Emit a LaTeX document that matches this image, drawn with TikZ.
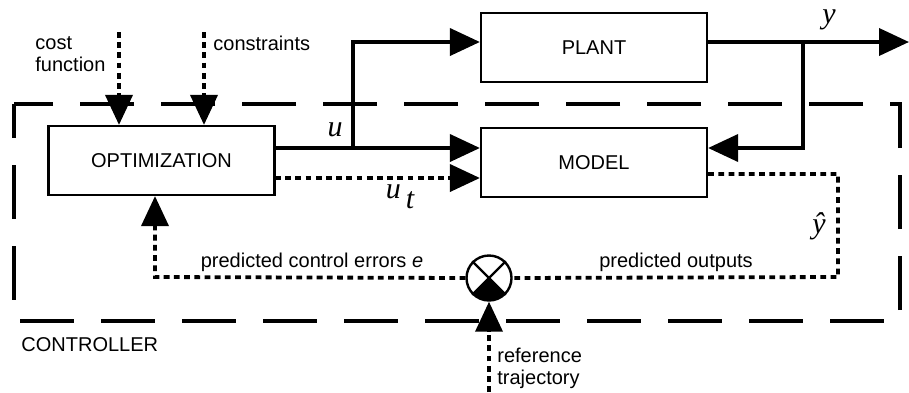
\documentclass[tikz,border=0pt]{standalone}
\usepackage{fontspec}
\setmainfont{Liberation Sans}
\newfontfamily\serfont{Liberation Serif}
\usepackage{tikz}
\usetikzlibrary{arrows.meta, positioning}

\begin{document}
\begin{tikzpicture}[x=0.5pt, y=-0.5pt,
                block/.style={
                  draw, line width=1.1pt, minimum width=113pt, minimum height=34.5pt,
                  font=\fontsize{10}{11}\selectfont, inner sep=0pt
                },
                sigPlain/.style={line width=1.9pt},
                sig/.style={sigPlain, -{Triangle[length=15pt,width=13.5pt]}},
                sigDot/.style={line width=1.9pt, dash pattern=on 2.9pt off 2.2pt},
                sigDotArr/.style={sigDot, -{Triangle[length=15pt,width=13.5pt]}},
                ctrlBox/.style={line width=1.7pt, dash pattern=on 27pt off 13.5pt, dash phase=10pt},
                txt/.style={font=\fontsize{10}{11}\selectfont, inner sep=0pt, align=left},
                lab/.style={font=\serfont\itshape\fontsize{15}{15}\selectfont, inner sep=0pt},
              ]
  \useasboundingbox (0,0) rectangle (909,392);

  % controller frame
  \draw [ctrlBox] (14,104) rectangle (900,321);
  \node [txt, anchor=west] (ctrl) at (21,345) {CONTROLLER};

  % blocks
  \node [block] (opt) at (161.5,160.5) {OPTIMIZATION};
  \node [block] (plant) at (594,47.5) {PLANT};
  \node [block] (model) at (594,162.5) {MODEL};
  \node [draw, circle, line width=1.2pt, minimum size=22.5pt, inner sep=0pt] (sum) at (489,278) {};

  % comparator
  \begin{scope}
    \clip (sum.center) -- ++(-30,30) -- ++(60,0) -- cycle;
    \fill (sum.center) circle (22);
  \end{scope}
  \draw [line width=1.1pt] (sum.45) -- (sum.225);
  \draw [line width=1.1pt] (sum.135) -- (sum.-45);

  % junctions and free ends
  \coordinate (uj) at (353,148);
  \coordinate (yj) at (803,42);
  \coordinate (yend) at (909,42);
  \coordinate (utj) at (275,178);
  \coordinate (yhj) at (838,277);
  \coordinate (ej) at (155,277);
  \coordinate (cf) at (119,32);
  \coordinate (cs) at (204,32);
  \coordinate (ref) at (489,392);

  % signals
  \draw [sigPlain] (opt.east |- uj) -- (uj);
  \draw [sig] (uj) -- (model.west |- uj);
  \draw [sig] (uj) |- (plant.west |- yj);
  \draw [sig] (plant.east |- yj) -- (yend);
  \draw [sig] (yj) |- (model.east |- uj);
  \draw [sigDotArr] (utj) -- (model.west |- utj);
  \draw [sigDot] (model.east |- 0,174) -| (yhj) -- (sum.east);
  \draw [sigDotArr] (sum.west) -- (ej) -- (opt.south -| ej);
  \draw [sigDotArr] (cf) -- (opt.north -| cf);
  \draw [sigDotArr] (cs) -- (opt.north -| cs);
  \draw [sigDotArr] (ref) -- (sum.south);

  % labels
  \node [txt, anchor=west] (costLbl) at (35,54) {cost\\function};
  \node [txt, anchor=west] (consLbl) at (213,43) {constraints};
  \node [txt] (errLbl) at (312,262) {predicted control errors \textit{e}};
  \node [txt] (outLbl) at (676,262) {predicted outputs};
  \node [txt, anchor=west] (refLbl) at (497,368) {reference\\trajectory};
  \node [lab] (uLbl) at (335,130) {u};
  \node [lab] (utLbl) at (400,197) {u\,\raisebox{-5pt}{t}};
  \node [lab] (yLbl) at (829,20) {y};
  \node [lab] (yhLbl) at (819,226) {ŷ};
\end{tikzpicture}
\end{document}
